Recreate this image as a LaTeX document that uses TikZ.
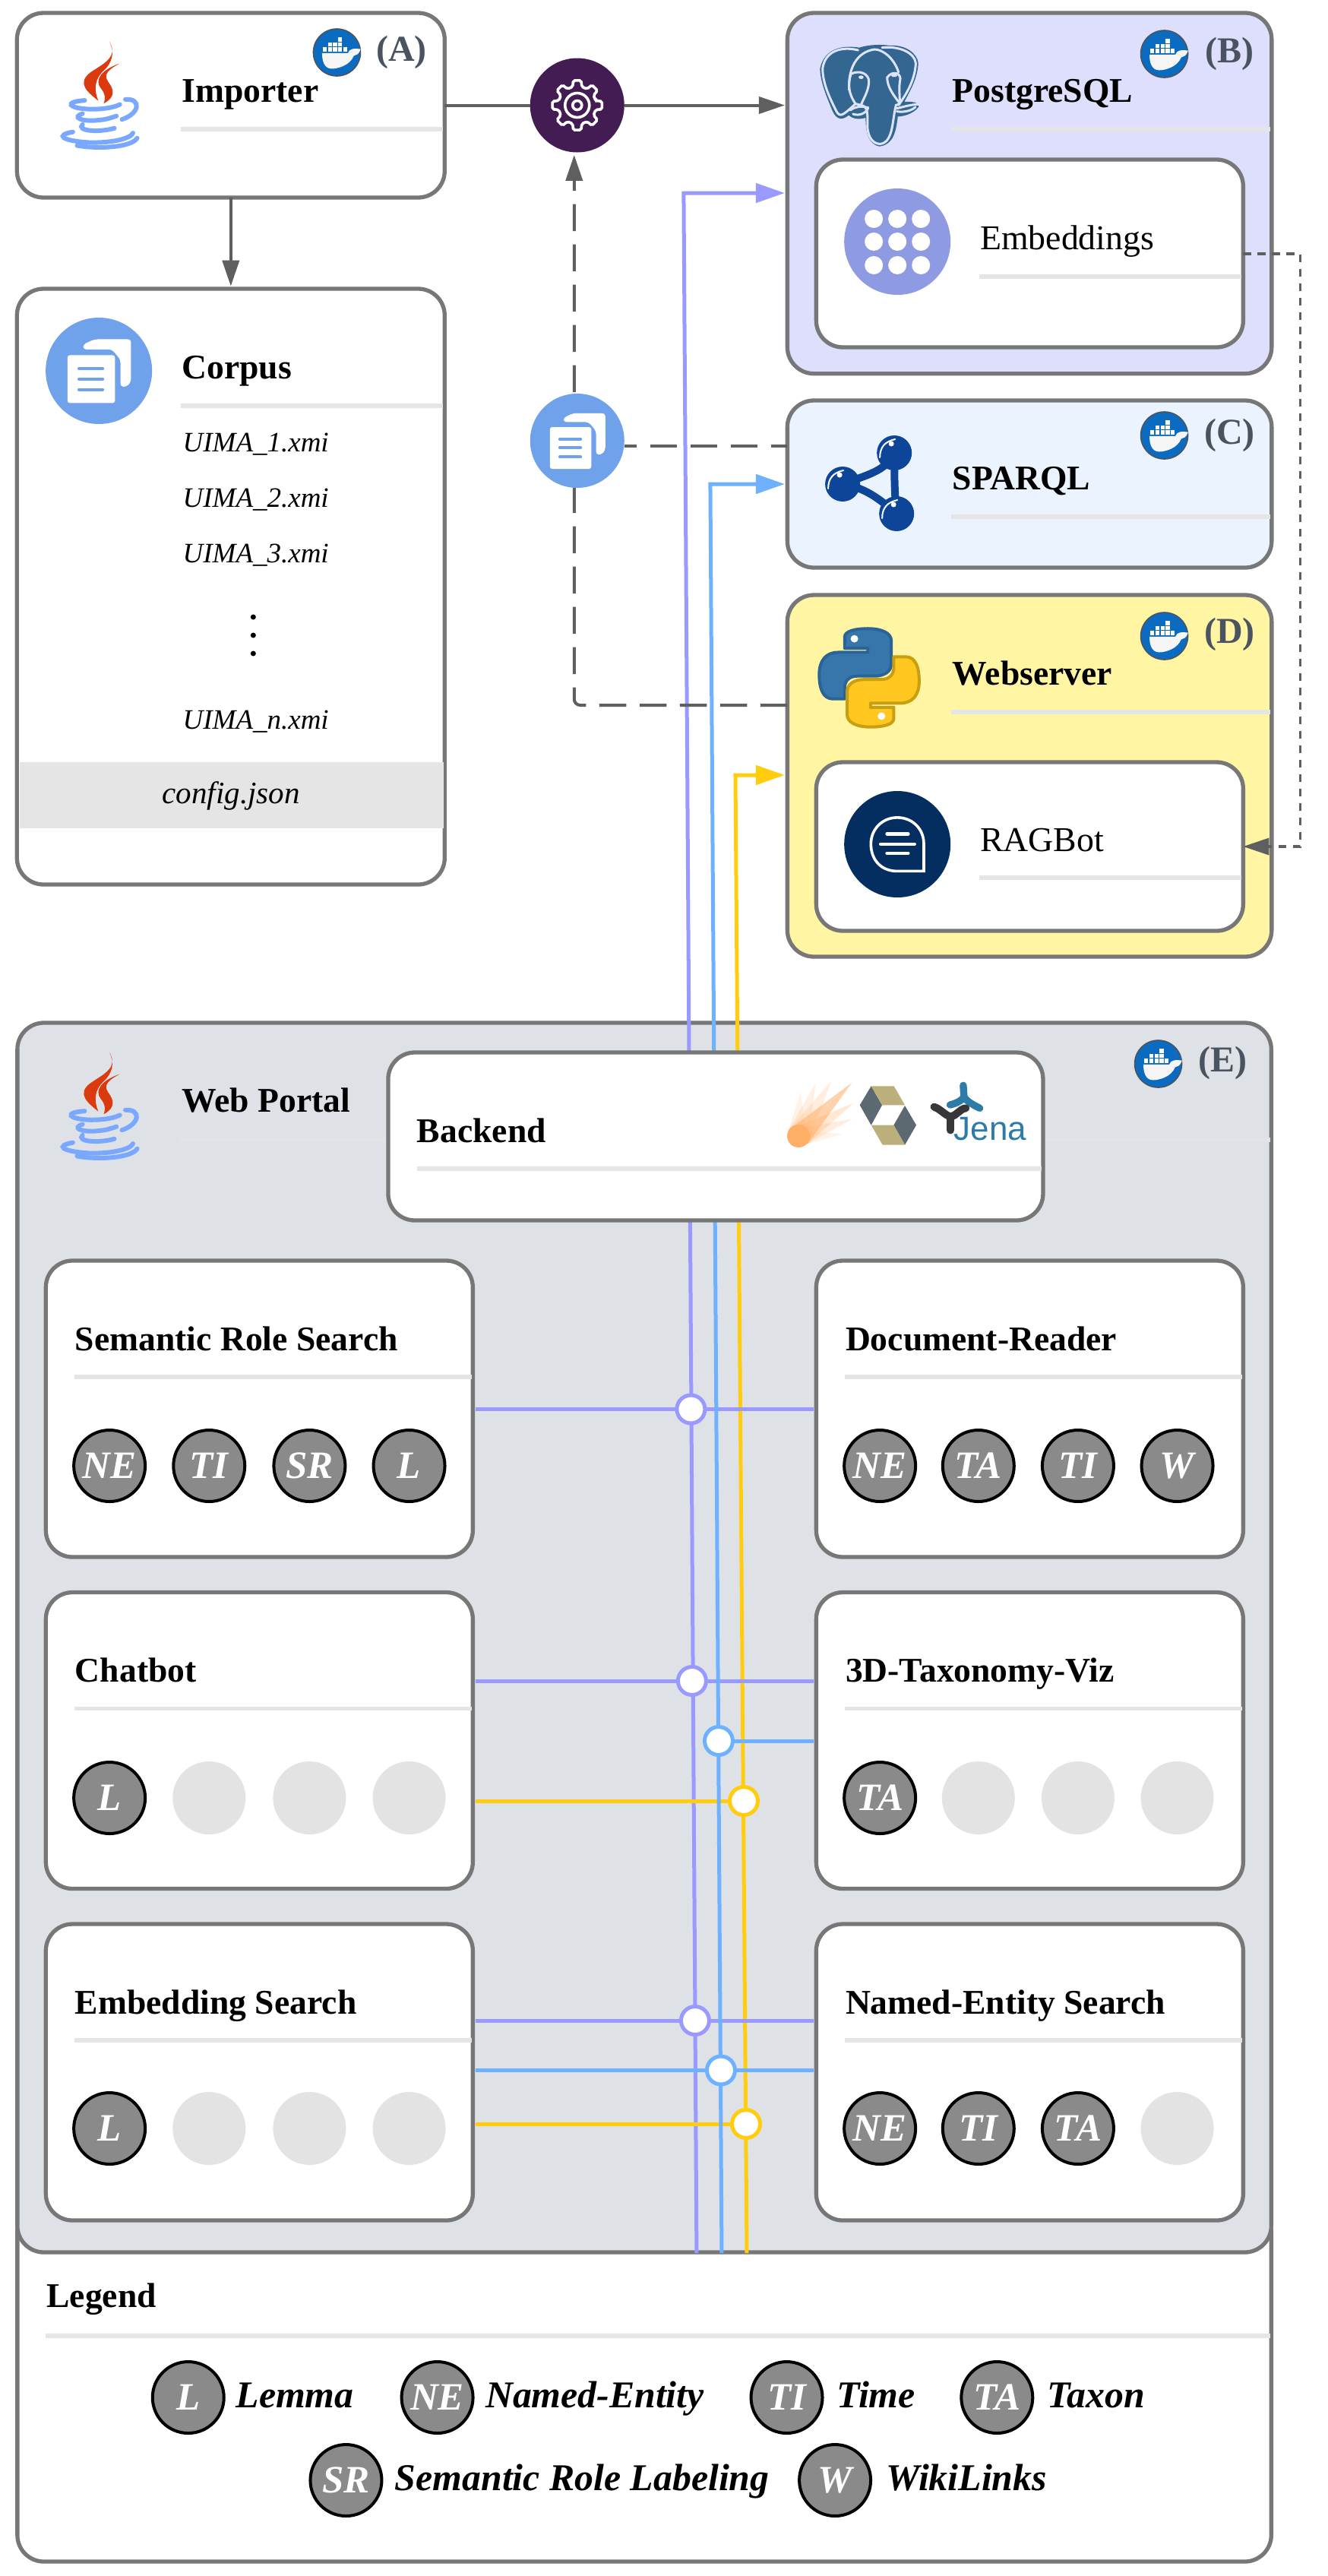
\documentclass[tikz,border=0pt]{standalone}
\usepackage{fontspec}
\setmainfont{Liberation Serif}
\newfontfamily\jenafont{Liberation Sans}
\usetikzlibrary{arrows.meta}
\definecolor{boxline}{HTML}{777777}
\definecolor{arrowc}{HTML}{5F5F5F}
\definecolor{rulegrey}{HTML}{E5E5E5}
\definecolor{lpurple}{HTML}{9999FF}
\definecolor{lblue}{HTML}{6EB1FF}
\definecolor{lyellow}{HTML}{FFCD0E}
\definecolor{pgfill}{HTML}{DEDEFD}
\definecolor{spfill}{HTML}{EBF3FE}
\definecolor{wsfill}{HTML}{FFF5A3}
\definecolor{wpfill}{HTML}{DEE1E6}
\definecolor{gearc}{HTML}{431C53}
\definecolor{docc}{HTML}{6FA2EB}
\definecolor{embc}{HTML}{8E9BE3}
\definecolor{ragc}{HTML}{042D60}
\definecolor{dockblue}{HTML}{0B6BC0}
\definecolor{labc}{HTML}{4A5460}
\definecolor{tagfill}{HTML}{8A8A8A}
\definecolor{emptyc}{HTML}{E3E3E3}
\definecolor{javared}{HTML}{DB3A0E}
\definecolor{javablue}{HTML}{7AA8FF}
\definecolor{pgblue}{HTML}{336791}
\definecolor{pglight}{HTML}{DDE3F8}
\definecolor{sparqlc}{HTML}{0D4699}
\definecolor{pyblue}{HTML}{3776AB}
\definecolor{pyblued}{HTML}{2A6496}
\definecolor{pyyellow}{HTML}{FFC71F}
\definecolor{pyyellowd}{HTML}{C89F10}
\definecolor{hibtan}{HTML}{BBAF7B}
\definecolor{hibslate}{HTML}{5C6970}
\definecolor{cometc}{HTML}{FFAE66}
\definecolor{jenablue}{HTML}{2D7CA8}
\definecolor{jenadark}{HTML}{39363A}
\tikzset{
  box/.style={draw=boxline,line width=2.65pt,rounded corners=17.5pt,inner sep=0pt,outer sep=0pt,fill=white},
  ttl/.style={anchor=base west,inner sep=0pt,font=\fontsize{22.8}{27}\selectfont\bfseries},
  txt/.style={anchor=base west,inner sep=0pt,font=\fontsize{22.9}{27}\selectfont},
  fil/.style={anchor=base west,inner sep=0pt,font=\fontsize{18.5}{22}\selectfont\itshape},
  lab/.style={inner sep=0pt,text=labc,font=\fontsize{24}{28}\selectfont\bfseries},
  leg/.style={anchor=base west,inner sep=0pt,font=\fontsize{24.9}{29}\selectfont\bfseries\itshape},
  rulec/.style={draw=rulegrey,line width=2.6pt},
  tagc/.style={circle,draw=black,line width=2pt,fill=tagfill,minimum size=47pt,inner sep=0pt,outer sep=0pt,text=white,font=\fontsize{25.5}{30}\selectfont\bfseries\itshape},
  emptytag/.style={circle,fill=emptyc,minimum size=48pt,inner sep=0pt,outer sep=0pt},
  dockc/.style={circle,fill=dockblue,draw=labc,line width=.8pt,minimum size=31pt,inner sep=0pt,outer sep=0pt},
  iconc/.style={circle,minimum size=70pt,inner sep=0pt,outer sep=0pt},
  iconm/.style={circle,minimum size=62pt,inner sep=0pt,outer sep=0pt},
  flow/.style={draw=arrowc,line width=2pt},
  tipg/.style={-{Triangle[length=17pt,width=11pt]},shorten >=1.7pt},
  tipc/.style={-{Triangle[length=19pt,width=12.5pt]},shorten >=1.7pt},
  dashl/.style={draw=arrowc,line width=2pt,dash pattern=on 17.7pt off 8.8pt,rounded corners=4pt},
  dotl/.style={draw=arrowc,line width=1.7pt,dash pattern=on 5.2pt off 4.3pt},
  cp/.style={draw=lpurple,line width=2.5pt},
  cb/.style={draw=lblue,line width=2.5pt},
  cy/.style={draw=lyellow,line width=2.5pt},
  frombox/.style={shorten <=1.7pt},
  tobox/.style={shorten >=1.7pt},
  junc/.style={circle,fill=white,line width=2.5pt,minimum size=18.5pt,inner sep=0pt,outer sep=0pt},
  zz/.style={x=0.2787pt,y=-0.2232pt},
  zy/.style={x=0.2787pt,y=-0.2551pt},
  zt/.style={x=0.16667pt,y=-0.16667pt}
}
\newcommand\pbox[6]{\node[box,#6,minimum width={(#4-#2)*0.5pt},minimum height={(#5-#3)*0.5pt}] (#1) at ({(#2+#4)/2},{(#3+#5)/2}) {};}
\newcommand\dockerbadge[3]{%
  \node[dockc] (#1) at (#2,#3) {};
  \begin{scope}[shift={(#1)},zz]
    \fill[white!96!black] (-35,2) -- (26,2) .. controls (30,-12) and (40,-12) .. (56,-10) .. controls (52,6) and (46,8) .. (40,10) .. controls (30,40) and (0,48) .. (-12,48) .. controls (-30,48) and (-35,25) .. (-35,2) -- cycle;
    \foreach \cx in {-33,-21,-9,3,15}{\fill[white] (\cx,-15) rectangle ++(9.5,12);}
    \foreach \cx in {-21,-9,3}{\fill[white] (\cx,-30) rectangle ++(9.5,12);}
    \fill[white] (3,-44) rectangle ++(9.5,12);
  \end{scope}}
\newcommand\javaicon[2]{%
  \begin{scope}[shift={(#1,#2)},zz]
    \fill[javared] (258,122) .. controls (282,170) and (240,190) .. (212,215) .. controls (182,245) and (205,270) .. (232,297) .. controls (222,265) and (222,235) .. (245,208) .. controls (265,185) and (272,155) .. (258,122) -- cycle;
    \fill[javared] (283,187) .. controls (240,205) and (222,235) .. (238,260) .. controls (248,275) and (250,290) .. (245,305) .. controls (275,285) and (268,262) .. (255,240) .. controls (244,220) and (255,205) .. (283,187) -- cycle;
    \begin{scope}[draw=javablue,line width=3pt,line cap=round]
      \draw (200,296) .. controls (150,300) and (160,320) .. (215,322) .. controls (250,322) and (272,315) .. (283,308);
      \draw (195,335) .. controls (170,345) and (190,358) .. (225,355) .. controls (250,352) .. (275,342);
      \draw (195,367) .. controls (180,385) and (230,392) .. (270,378);
      \draw (172,389) .. controls (130,398) and (145,415) .. (210,420) .. controls (260,422) and (308,410) .. (314,392);
      \draw (182,429) .. controls (230,440) and (310,435) .. (324,407);
      \draw (296,293) .. controls (335,290) and (330,335) .. (288,352);
    \end{scope}
  \end{scope}}
\newcommand\docdetail[2]{%
  \begin{scope}[shift={(#1)},x=#2*0.2787pt,y=-#2*0.2232pt]
    \fill[white,rounded corners=1.5pt] (-74,-46) rectangle (38,95);
    \fill[white,rounded corners=2pt] (-37,-63) -- (-37,-78) -- (-10,-93) -- (76,-93) -- (76,32) -- (66,47) -- (51,47) -- (51,-33) -- (31,-63) -- cycle;
    \foreach \ly in {-6,24,55}{\draw[docc,line width=2pt,line cap=round] (-47,\ly) -- (9,\ly);}
  \end{scope}}
\newcommand\svc[4]{% name x0 y0 title
  \pbox{#1}{#2}{#3}{#2+562}{#3+390}{}
  \node[ttl] (t#1) at ({#2+38.5},{#3+118}) {#4};
  \draw[rulec] ({#2+38},{#3+153}) -- ({#2+560},{#3+153});
}
\begin{document}
\begin{tikzpicture}[x=0.5005pt,y=-0.5pt]
\useasboundingbox (0pt,0pt) rectangle (874pt,-1695pt);
\fill[white] (0pt,0pt) rectangle (874pt,-1695pt);

% ---------- left column ----------
\pbox{importer}{22}{17}{585}{260}{}
\pbox{corpus}{22}{380}{585}{1164}{}
\javaicon{0}{0}
\node[ttl] (tImporter) at (239,134) {Importer};
\draw[rulec] (238,170) -- (582,170);
\dockerbadge{dockA}{443}{69}
\node[lab] (labA) at (528,69) {(A)};

\fill[rulegrey] (26,1003) rectangle (583,1090);
\node[iconc,fill=docc] (docA) at (130,488) {};
\docdetail{docA}{1}
\node[ttl] (tCorpus) at (239,498) {Corpus};
\draw[rulec] (238,534) -- (582,534);
\node[fil] (f1) at (240,594) {UIMA\_1.xmi};
\node[fil] (f2) at (240,667) {UIMA\_2.xmi};
\node[fil] (f3) at (240,740) {UIMA\_3.xmi};
\fill[black] (333,812) circle (3.5) (333,836) circle (3.5) (333,860) circle (3.5);
\node[fil] (f4) at (240,959) {UIMA\_n.xmi};
\node[fil,anchor=base,font=\fontsize{20.5}{24}\selectfont\itshape] (fc) at (304,1057) {config.json};

% ---------- right column ----------
\pbox{postgres}{1035}{17}{1672.5}{491.7}{fill=pgfill}
\pbox{embeddings}{1073}{210}{1635}{457}{}
\pbox{sparql}{1035}{527}{1672.5}{747}{fill=spfill}
\pbox{webserver}{1035}{783}{1672.5}{1259}{fill=wsfill}
\pbox{ragbot}{1073}{1003}{1635}{1225}{}

% elephant
\begin{scope}[shift={(1050,40)},zt]
  \fill[pgblue] (85,150) .. controls (100,80) and (160,55) .. (240,68) .. controls (280,55) and (330,55) .. (360,60) .. controls (420,55) and (470,90) .. (473,130) .. controls (470,190) and (440,240) .. (418,282) .. controls (450,280) and (475,285) .. (475,300) .. controls (460,325) and (420,340) .. (392,340) .. controls (385,400) and (375,450) .. (320,458) .. controls (275,450) and (265,400) .. (265,345) .. controls (230,355) and (210,345) .. (198,335) .. controls (170,358) and (150,350) .. (135,320) .. controls (110,260) and (85,200) .. (85,150) -- cycle;
  \begin{scope}[draw=pglight,line width=1.5pt,line cap=round]
    \draw (235,78) .. controls (170,62) and (105,80) .. (95,150) .. controls (95,210) and (125,270) .. (150,320) .. controls (165,345) and (175,335) .. (225,290);
    \draw (200,235) .. controls (195,150) and (230,85) .. (300,75) .. controls (330,75) and (375,105) .. (395,165);
    \draw (330,68) .. controls (400,60) and (460,90) .. (463,130) .. controls (460,200) and (420,260) .. (395,295);
    \draw (207,172) .. controls (240,155) and (280,170) .. (278,205) .. controls (275,245) and (255,270) .. (247,295);
    \draw (207,172) .. controls (195,210) and (195,245) .. (225,290) -- (247,295);
    \draw (247,295) .. controls (278,300) and (272,340) .. (272,380) .. controls (275,430) and (300,450) .. (325,448) .. controls (375,440) and (370,350) .. (385,295) -- (400,290);
    \draw (350,185) .. controls (370,160) and (400,165) .. (402,190) .. controls (395,230) and (400,250) .. (400,288);
    \draw (350,185) .. controls (350,220) and (370,250) .. (400,288);
    \draw (205,315) .. controls (225,300) and (245,298) .. (275,305);
    \draw (215,330) .. controls (240,340) and (270,325) .. (275,305);
    \draw (388,308) .. controls (420,300) and (450,292) .. (472,292);
    \draw (388,320) .. controls (420,325) and (450,315) .. (462,302);
  \end{scope}
  \fill[pglight] (247,185) ellipse [x radius=10,y radius=7];
  \fill[pglight] (378,178) ellipse [x radius=12,y radius=6];
\end{scope}
\node[ttl] (tPg) at (1252,134) {PostgreSQL};
\draw[rulec] (1251,170) -- (1670,170);
\dockerbadge{dockB}{1531}{71}
\node[lab] (labB) at (1617,71) {(B)};
\node[iconc,fill=embc] (embicon) at (1180,318) {};
\foreach \dx in {1149,1180,1211}{\foreach \dy in {288,318,349}{\fill[white] (\dx,\dy) circle (12);}}
\node[txt] (tEmb) at (1288.5,328) {Embeddings};
\draw[rulec] (1288,364) -- (1632,364);

% sparql
\draw[sparqlc,line width=5pt,line join=round] (1176,596) .. controls (1165,620) and (1140,625) .. (1108,637) .. controls (1140,642) and (1160,660) .. (1179,676) .. controls (1176,650) and (1176,620) .. (1176,596) -- cycle;
\foreach \bx/\by in {1176/596,1108/637,1179/676}{
  \fill[sparqlc] (\bx,\by) circle (23);
  \draw[white,line width=1pt,line cap=round] (\bx-19,\by+6) .. controls (\bx-19,\by-8) and (\bx-12,\by-15) .. (\bx+1,\by-18);
  \fill[white] (\bx-4,\by-12) circle (3.5);
}
\node[ttl] (tSp) at (1252,644) {SPARQL};
\draw[rulec] (1251,680) -- (1670,680);
\dockerbadge{dockC}{1531}{573}
\node[lab] (labC) at (1617,573) {(C)};

% python
\begin{scope}[shift={(874,700)},zz]
  \def\pyhalf{(425,310) .. controls (425,292) and (450,285) .. (480,285) .. controls (515,285) and (535,300) .. (535,320) -- (535,390) .. controls (535,410) and (520,425) .. (495,425) -- (455,425) .. controls (435,425) and (425,440) .. (425,460) -- (425,492) -- (395,492) .. controls (375,490) and (365,465) .. (365,420) .. controls (365,380) and (380,355) .. (410,355) -- (480,355) -- (480,343) -- (425,343) -- cycle}
  \filldraw[fill=pyblue,draw=pyblued,line width=2pt,line join=round] \pyhalf;
  \fill[white] (448,315) ellipse [x radius=9,y radius=11];
  \begin{scope}[shift={(966,860)},xscale=-1,yscale=-1]
    \filldraw[fill=pyyellow,draw=pyyellowd,line width=2pt,line join=round] \pyhalf;
    \fill[white] (454,317) ellipse [x radius=9,y radius=11];
  \end{scope}
\end{scope}
\node[ttl] (tWs) at (1252,901) {Webserver};
\draw[rulec] (1251,937) -- (1670,937);
\dockerbadge{dockD}{1531}{837}
\node[lab] (labD) at (1617,835) {(D)};
\node[iconc,fill=ragc] (ragicon) at (1180,1111) {};
\begin{scope}[shift={(874,700)},zz]
  \draw[white,line width=1.8pt,line join=miter] (612,1000) -- (549,1000) .. controls (510,1000) and (487,965) .. (487,920) .. controls (487,875) and (515,842) .. (549,842) .. controls (585,842) and (612,875) .. (612,920) -- cycle;
  \draw[white,line width=2.2pt,line cap=round] (525,890) -- (575,890);
  \draw[white,line width=2.2pt,line cap=round] (510,920) -- (590,920);
  \draw[white,line width=2.2pt,line cap=round] (525,947) -- (575,947);
\end{scope}
\node[txt] (tRag) at (1288.5,1120) {RAGBot};
\draw[rulec] (1288,1155) -- (1632,1155);

% ---------- legend and portal ----------
\pbox{legend}{22}{2900}{1672.5}{3371}{}
\pbox{portal}{22}{1346}{1672.5}{2964}{fill=wpfill}
\draw[rulec,draw=rulegrey!60!wpfill] (238,1500) -- (1670,1500);
\javaicon{0}{1330}
\node[ttl] (tWp) at (239,1463) {Web Portal};
\dockerbadge{dockE}{1523}{1400}
\node[lab] (labE) at (1608,1399) {(E)};

% service boxes
\svc{srs}{60}{1659}{Semantic Role Search}
\svc{dre}{1073}{1659}{Document-Reader}
\svc{cht}{60}{2095.5}{Chatbot}
\svc{tax}{1073}{2095.5}{3D-Taxonomy-Viz}
\svc{ebs}{60}{2532}{Embedding Search}
\svc{nes}{1073}{2532}{Named-Entity Search}

% tags row 1
\node[tagc] (a1) at (144,1929) {NE};
\node[tagc] (a2) at (275,1929) {TI};
\node[tagc] (a3) at (407,1929) {SR};
\node[tagc] (a4) at (538,1929) {L};
\node[tagc] (b1) at (1157,1929) {NE};
\node[tagc] (b2) at (1286.5,1929) {TA};
\node[tagc] (b3) at (1417.5,1929) {TI};
\node[tagc] (b4) at (1548,1929) {W};
% tags row 2
\node[tagc] (c1) at (144,2366) {L};
\node[emptytag] (c2) at (275,2366) {};
\node[emptytag] (c3) at (407,2366) {};
\node[emptytag] (c4) at (538,2366) {};
\node[tagc] (d1) at (1157,2366) {TA};
\node[emptytag] (d2) at (1286.5,2366) {};
\node[emptytag] (d3) at (1417.5,2366) {};
\node[emptytag] (d4) at (1548,2366) {};
% tags row 3
\node[tagc] (e1) at (144,2801) {L};
\node[emptytag] (e2) at (275,2801) {};
\node[emptytag] (e3) at (407,2801) {};
\node[emptytag] (e4) at (538,2801) {};
\node[tagc] (f5) at (1157,2801) {NE};
\node[tagc] (f6) at (1286.5,2801) {TI};
\node[tagc] (f7) at (1417.5,2801) {TA};
\node[emptytag] (f8) at (1548,2801) {};

% coordinates of the three buses
\coordinate (pEnd) at (916,2965);
\coordinate (pTop) at (899,254);
\coordinate (bEnd) at (949,2965);
\coordinate (bTop) at (934,637);
\coordinate (yEnd) at (982,2965);
\coordinate (yTop) at (967,1020);
\coordinate (jp1c) at (908.5,1854.5);
\coordinate (jp2c) at (910,2212);
\coordinate (jb2c) at (945,2291);
\coordinate (jy2c) at (978,2370);
\coordinate (jp3c) at (914,2659);
\coordinate (jb3c) at (948,2724.5);
\coordinate (jy3c) at (981,2795);

% buses and branches
\draw[cy,tipc] (yEnd) -- (yTop) -- (yTop -| webserver.west);
\draw[cp,tipc] (pEnd) -- (pTop) -- (pTop -| postgres.west);
\draw[cp,frombox] (srs.east |- jp1c) -- (jp1c);
\draw[cp,tobox] (jp1c) -- (dre.west |- jp1c);
\draw[cp,frombox] (cht.east |- jp2c) -- (jp2c);
\draw[cp,tobox] (jp2c) -- (tax.west |- jp2c);
\draw[cp,frombox] (ebs.east |- jp3c) -- (jp3c);
\draw[cp,tobox] (jp3c) -- (nes.west |- jp3c);
\draw[cy,frombox] (cht.east |- jy2c) -- (jy2c);
\draw[cy,frombox] (ebs.east |- jy3c) -- (jy3c);
\draw[cb,tipc] (bEnd) -- (bTop) -- (bTop -| sparql.west);
\draw[cb,tobox] (jb2c) -- (tax.west |- jb2c);
\draw[cb,frombox] (ebs.east |- jb3c) -- (jb3c);
\draw[cb,tobox] (jb3c) -- (nes.west |- jb3c);
\foreach \jn/\jc/\jk in {jp1/jp1c/lpurple,jp2/jp2c/lpurple,jb2/jb2c/lblue,jy2/jy2c/lyellow,jp3/jp3c/lpurple,jb3/jb3c/lblue,jy3/jy3c/lyellow}{
  \node[junc,draw=\jk] (\jn) at (\jc) {};
}

% backend
\pbox{backend}{510}{1385}{1372}{1606}{}
\node[ttl] (tBe) at (548,1503) {Backend};
\draw[rulec] (548,1538) -- (1370,1538);
\begin{scope}[shift={(1030,1410)},zt]
  \foreach \tx/\ty/\op in {68/80/.14,128/45/.18,190/38/.22,270/45/.55,277/125/.28,273/187/.22,235/247/.14}{
    \fill[cometc,opacity=\op] (20,232) -- (\tx,\ty) -- (97,285) -- cycle;
  }
  \fill[cometc] (60,255) circle [radius=45];
  \fill[hibslate] (302,133) -- (347,58) -- (390,133) -- (347,212) -- cycle;
  \fill[hibtan] (347,58) -- (437,58) -- (480,133) -- (390,133) -- cycle;
  \fill[hibslate] (480,135) -- (525,212) -- (480,290) -- (436,212) -- cycle;
  \fill[hibtan] (347,212) -- (436,212) -- (480,290) -- (392,290) -- cycle;
\end{scope}
\begin{scope}[shift={(1200,1400)},zt]
  \begin{scope}[draw=jenablue,line width=4.7pt,line cap=round]
    \draw (200,85) -- (203,130);
    \draw (148,162) .. controls (175,155) and (195,145) .. (203,130) .. controls (215,150) and (240,162) .. (265,175);
  \end{scope}
  \begin{scope}[draw=jenadark,line width=5pt,line cap=round]
    \draw (85,170) .. controls (110,178) and (130,205) .. (150,208) .. controls (175,205) and (185,178) .. (210,175);
    \draw (150,208) -- (150,262);
  \end{scope}
\end{scope}
\node[anchor=base west,inner sep=0pt,text=jenablue,font=\jenafont\fontsize{22}{26}\selectfont] (tJena) at (1254,1500) {Jena};

% grey connectors
\node[iconm,fill=gearc] (gear) at (759,138.5) {};
\begin{scope}[shift={(gear)}]
  \draw[white,line width=1.8pt,rounded corners=1pt] (-14:25) \foreach \ga in {0,45,...,315}{ -- ({\ga-14}:25) -- ({\ga-9}:33) -- ({\ga+9}:33) -- ({\ga+14}:25)} -- cycle;
  \draw[white,line width=1.8pt] (0,0) circle (16);
  \draw[white,line width=1.8pt] (0,0) circle (6);
\end{scope}
\draw[flow] (importer.east |- gear) -- (gear.west);
\draw[flow,tipg] (gear.east) -- (gear -| postgres.west);
\draw[flow,tipg] (importer.south) -- (importer.south |- corpus.north);
\coordinate (dCorner) at (755,928);
\coordinate (dDocs) at (821,587);
\draw[dashl,tipg] (webserver.west |- dCorner) -- (dCorner) -- (dCorner |- gear.south);
\node[iconm,fill=docc] (docB) at (759,580) {};
\draw[dashl,dash phase=9.5pt] (docB.east |- dDocs) -- (dDocs -| sparql.west);
\docdetail{docB}{0.873}
\coordinate (dotA) at (1710,334);
\coordinate (dotB) at (1710,1114);
\draw[dotl,tipg,shorten >=0pt] (embeddings.east |- dotA) -- (dotA) -- (dotB) -- (ragbot.east |- dotB);

% legend content
\node[ttl] (tLg) at (61,3036) {Legend};
\draw[rulec] (60,3074) -- (1670,3074);
\node[tagc] (gL) at (247.5,3155) {L};
\node[leg] (lL) at (310,3168) {Lemma};
\node[tagc] (gNE) at (575,3155) {NE};
\node[leg] (lNE) at (638,3168) {Named-Entity};
\node[tagc] (gTI) at (1034.5,3155) {TI};
\node[leg] (lTI) at (1100,3168) {Time};
\node[tagc] (gTA) at (1311,3155) {TA};
\node[leg] (lTA) at (1377,3168) {Taxon};
\node[tagc] (gSR) at (455,3264) {SR};
\node[leg] (lSR) at (519,3277) {Semantic Role Labeling};
\node[tagc] (gW) at (1098,3264) {W};
\node[leg] (lW) at (1165,3277) {WikiLinks};
\end{tikzpicture}
\end{document}
